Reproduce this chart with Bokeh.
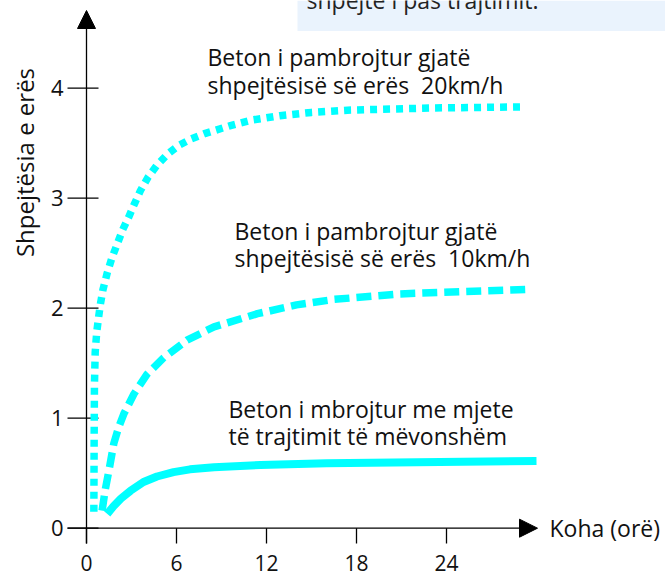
import math
from bokeh.plotting import figure
from bokeh.models import Range1d, Arrow, NormalHead, Label, BoxAnnotation
from bokeh.core.properties import value
from bokeh.embed import file_html
from bokeh.resources import INLINE

# ---- data (hours, wind-speed effect) ----
hours_20 = [0.49, 0.51, 0.53, 0.58, 0.68, 0.82, 0.93, 1.10, 1.38, 1.70, 2.04,
            2.40, 2.82, 3.20, 3.60, 4.10, 4.70, 5.40, 6.15, 7.00, 7.93, 9.60,
            11.0, 12.9, 15.0, 17.4, 23.0, 28.9]
vals_20 = [0.15, 0.80, 1.30, 1.60, 1.78, 1.93, 2.04, 2.17, 2.32, 2.46, 2.58,
           2.71, 2.83, 2.95, 3.07, 3.19, 3.30, 3.40, 3.48, 3.54, 3.59, 3.66,
           3.71, 3.75, 3.78, 3.80, 3.82, 3.83]

hours_10 = [1.04, 1.25, 1.49, 1.82, 2.15, 2.49, 3.16, 4.04, 5.15, 6.70, 8.50,
            11.4, 14.0, 16.5, 20.9, 25.0, 29.4]
vals_10 = [0.16, 0.35, 0.52, 0.77, 0.92, 1.04, 1.22, 1.40, 1.55, 1.71, 1.83,
           1.95, 2.03, 2.08, 2.13, 2.15, 2.17]

hours_prot = [1.38, 1.80, 2.30, 2.93, 3.80, 4.70, 5.80, 6.90, 8.50, 11.6,
              16.0, 22.0, 30.0]
vals_prot = [0.13, 0.20, 0.27, 0.34, 0.42, 0.47, 0.51, 0.535, 0.555, 0.575,
             0.59, 0.60, 0.61]

x_ticks = [0, 6, 12, 18, 24]
x_tick_labels = ["0", "6", "12", "18", "24"]
y_ticks = [0, 1, 2, 3, 4]
y_tick_labels = ["0", "1", "2", "3", "4"]
x_title = "Koha (orë)"
y_title = "Shpejtësia e erës"
label_20 = ["Beton i pambrojtur gjatë", "shpejtësisë së erës\u00a0 20km/h"]
label_10 = ["Beton i pambrojtur gjatë", "shpejtësisë së erës\u00a0 10km/h"]
label_prot = ["Beton i mbrojtur me mjete", "të trajtimit të mëvonshëm"]
note_text = "shpejtë i pas trajtimit."

FONT = "Open Sans"
CYAN = "#00FFFF"
TXT = "#111111"

W, H = 665, 576
X_ORIGIN, Y_ORIGIN = 86.0, 527.7      # screen px of (0, 0)
px_per_x = 15.0
px_per_y = 110.0
x0 = -X_ORIGIN / px_per_x
y0 = -(H - Y_ORIGIN) / px_per_y
BASE_FIX = 10                          # renderer draws baselines ~10px low

p = figure(width=W, height=H, output_backend="svg", toolbar_location=None,
           x_range=Range1d(x0, x0 + W / px_per_x),
           y_range=Range1d(y0, y0 + H / px_per_y),
           x_axis_location=None, y_axis_location=None,
           min_border=0, outline_line_color=None)
p.grid.visible = False
p.background_fill_color = "white"


def sx(px):
    return (px - X_ORIGIN) / px_per_x


def sy(py):
    return (Y_ORIGIN - py) / px_per_y


# top note box (cut off at the top of the picture)
p.add_layout(BoxAnnotation(left=sx(297), bottom=sy(30.5), fill_color="#EAF3FD",
                           fill_alpha=1.0, line_color=None, level="underlay"))
p.add_layout(Label(x=sx(306), y=sy(9 - BASE_FIX), text=note_text, text_font=FONT,
                   text_font_size="23px", text_color="#222222",
                   text_baseline="alphabetic"))

# axes: lines with arrow heads, ticks and tick labels on the data scales
p.add_layout(Arrow(x_start=sx(67), y_start=0, x_end=sx(537), y_end=0,
                   line_width=1.3, line_color="black",
                   end=NormalHead(size=18, fill_color="black", line_color="black")))
p.add_layout(Arrow(x_start=0, y_start=sy(543), x_end=0, y_end=sy(10),
                   line_width=1.3, line_color="black",
                   end=NormalHead(size=18, fill_color="black", line_color="black")))

n_x = len(x_ticks)
p.segment(x0=x_ticks, y0=[0] * n_x, x1=x_ticks, y1=[sy(543)] * n_x,
          line_color="black", line_width=1.3)
p.text(x=x_ticks, y=[sy(562)] * n_x, text=x_tick_labels,
       text_font=value(FONT), text_font_size="21px", text_color=TXT,
       text_align="center", text_baseline="middle")

n_y = len(y_ticks)
p.segment(x0=[sx(67)] * n_y, y0=y_ticks, x1=[sx(98)] * n_y, y1=y_ticks,
          line_color="black", line_width=1.3)
p.text(x=[sx(63)] * n_y, y=y_ticks, text=y_tick_labels,
       text_font=value(FONT), text_font_size="22px", text_color=TXT,
       text_align="right", text_baseline="middle")

# curves
p.line(hours_20, vals_20, line_color=CYAN, line_width=7.5, line_dash="7 6",
       line_cap="butt", line_join="round")
p.line(hours_10, vals_10, line_color=CYAN, line_width=7.5, line_dash="15 7",
       line_cap="butt", line_join="round")
p.line(hours_prot, vals_prot, line_color=CYAN, line_width=8,
       line_cap="butt", line_join="round")


def add_label(lines, left, base1, base2):
    for t, b in zip(lines, (base1, base2)):
        p.add_layout(Label(x=sx(left), y=sy(b - BASE_FIX), text=t,
                           text_font=FONT, text_font_size="23px",
                           text_color=TXT, text_baseline="alphabetic",
                           text_align="left"))


add_label(label_20, 207, 66, 94)
add_label(label_10, 234, 240, 267)
add_label(label_prot, 228, 418, 445)

p.add_layout(Label(x=sx(549), y=0, text=x_title, text_font=FONT,
                   text_font_size="23px", text_color=TXT,
                   text_baseline="middle", text_align="left"))
p.add_layout(Label(x=sx(24), y=sy(162), text=y_title, text_font=FONT,
                   text_font_size="24px", text_color=TXT,
                   text_baseline="middle", text_align="center",
                   angle=math.pi / 2))

open("out.html", "w").write(file_html(p, INLINE))
